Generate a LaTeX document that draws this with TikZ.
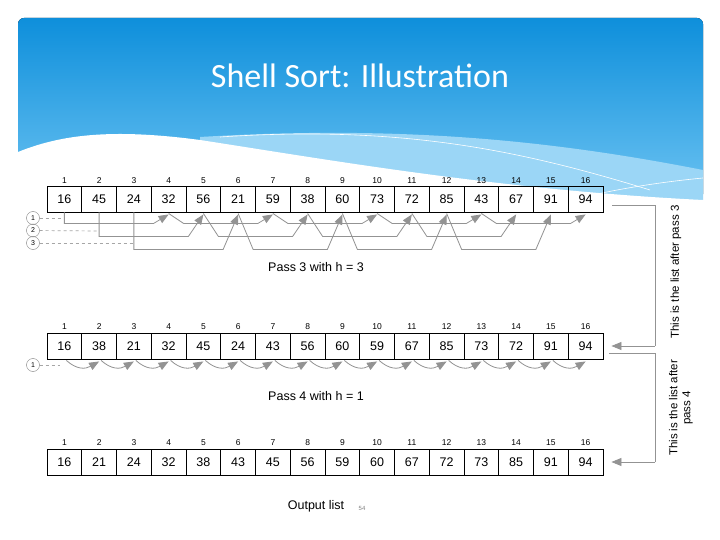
\documentclass[tikz,border=0pt]{standalone}
\usepackage{fontspec}
\setmainfont{Liberation Sans}
\newfontfamily\titlefont{Carlito}
\usetikzlibrary{arrows.meta,calc}
\begin{document}
\begin{tikzpicture}[x=1pt,y=-1pt,
  cell/.style={draw,line width=0.9pt,minimum width=34.75pt,minimum height=26pt,inner sep=0,font=\fontsize{12.5}{12.5}\selectfont},
  idx/.style={font=\fontsize{8.5}{8.5}\selectfont},
  conn/.style={draw=gray!85,line width=0.8pt},
  arr/.style={conn,-{Triangle[length=10pt,width=8pt]}},
  circ/.style={draw=gray,circle,minimum size=13pt,inner sep=0,font=\fontsize{7}{7}\selectfont},
  dsh/.style={draw=gray!70,dashed,line width=0.7pt},
  captext/.style={font=\fontsize{12.5}{12.5}\selectfont}]
\useasboundingbox (0,0) rectangle (720,540);
\fill[white] (0,0) rectangle (720,540);
\definecolor{bluetop}{HTML}{0E8FDB}
\definecolor{bluebot}{HTML}{6CC3F2}
\definecolor{bandblue}{HTML}{9BD6F6}
\fill[top color=bluetop,bottom color=bluebot,rounded corners=6pt] (18,18) rectangle (703,200);
\fill[bandblue] (200,137) .. controls (400,125) and (550,140) .. (703,170) -- (703,200) -- (200,200) -- cycle;
\fill[white] (18,152) .. controls (60,135) and (110,128) .. (200,140) .. controls (330,160) and (500,190) .. (703,200) -- (703,225) -- (18,225) -- cycle;
\draw[white,line width=0.6pt] (220,137) .. controls (400,125) and (520,150) .. (650,190);
\draw[white,line width=0.6pt] (460,235) .. controls (550,200) and (630,185) .. (703,178);
\node[white,font=\titlefont\fontsize{34}{34}\selectfont] (title) at (360,76) {Shell Sort: Illustration};
% rows
\foreach \r/\y/\ly/\vals in {a/199/181/{16,45,24,32,56,21,59,38,60,73,72,85,43,67,91,94},
                             b/346/327/{16,38,21,32,45,24,43,56,60,59,67,85,73,72,91,94},
                             c/462/443/{16,21,24,32,38,43,45,56,59,60,67,72,73,85,91,94}}{
  \foreach \v [count=\i] in \vals {
    \node[cell] (\r\i) at ({47+34.75*(\i-0.5)},\y) {\v};
    \node[idx] (\r n\i) at ({47+34.75*(\i-0.5)},\ly) {\i};
  }
}
% pass 3
\foreach \g/\L in {1/223,2/236,3/249}{
  \node[circ] (c\g) at (33,{\L-5-(\g-1)*0.5}) {\g};
}
\draw[dsh] (c1) -- (63,218);\draw[dsh] (c2) -- (98,231);\draw[dsh] (c3) -- (133,243);
% group chains
\foreach \g/\L/\last in {1/223/13,2/236/11,3/249/12}{
  \pgfmathtruncatemacro\nxt{\g+3}
  \pgfmathtruncatemacro\nn{\g+6}
  \draw[arr] (a\g.south) -- ++(0,\L-212) -- ($(a\nxt.south)+(-15,\L-212)$) -- ($(a\nxt.south)+(0,2)$);
  \foreach \k in {\nxt,\nn,...,\last}{
    \pgfmathtruncatemacro\kk{\k+3}
    \draw[arr] ($(a\k.south)+(0,1)$) -- ($(a\k.south)+(15,\L-212)$) -- ($(a\kk.south)+(-15,\L-212)$) -- ($(a\kk.south)+(0,2)$);
  }
}
\node[captext] (p3) at (316,267) {Pass 3 with h = 3};
% pass 4
\node[circ] (d1) at (33,365) {1};
\draw[dsh] (d1) -- (60,365);
\foreach \i in {1,...,15}{
  \pgfmathtruncatemacro\j{\i+1}
  \draw[arr] ($(b\i.south)+(2,1)$) .. controls ($(b\i.south)+(12,10)$) and ($(b\j.south)+(-14,10)$) .. ($(b\j.south)+(0,2)$);
}
\node[captext] (p4) at (316,396) {Pass 4 with h = 1};
\node[captext] (out) at (316,506) {Output list};
\node[font=\fontsize{6}{6}\selectfont,gray] (pg) at (362,508) {54};
% brackets
\coordinate (t1) at (612,205);
\draw[conn] (t1) -- (655,205) -- (655,346);
\draw[arr] (655,346) -- ($(b16.east)+(8,0)$);
\draw[conn] ($(b16.east)+(6,7)$) -- (655,353) -- (655,462);
\draw[arr] (655,462) -- ($(c16.east)+(8,0)$);
\node[rotate=90,font=\fontsize{11.5}{13}\selectfont] (l1) at (676,272) {This is the list after pass 3};
\node[rotate=90,font=\fontsize{11.5}{13}\selectfont,align=center] (l2) at (681,408) {This is the list after\\pass 4};
\end{tikzpicture}
\end{document}
